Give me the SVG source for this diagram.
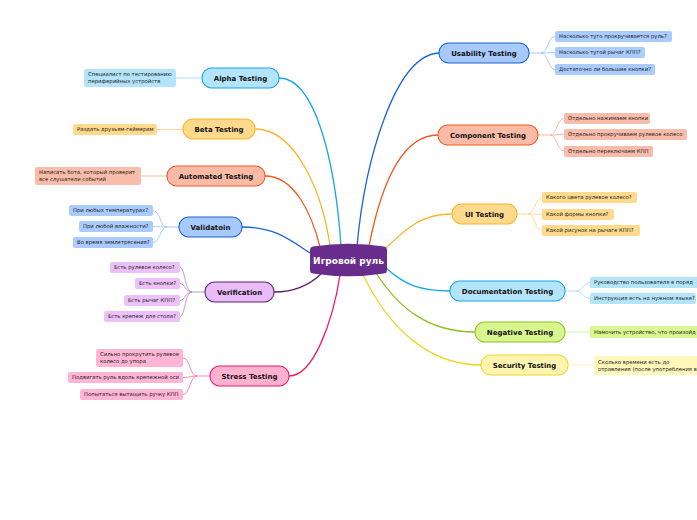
<svg xmlns="http://www.w3.org/2000/svg" width="697" height="520" viewBox="0 0 697 520">
<style>
.bg{fill:#ffffff}
.mn{stroke-width:1.1}
.mt{font-family:"DejaVu Sans",Verdana,sans-serif;font-weight:bold;font-size:7px;fill:#111;text-anchor:middle}
.ct{font-family:"DejaVu Sans",Verdana,sans-serif;font-size:5.3px;fill:#222}
.cen{font-family:"DejaVu Sans",Verdana,sans-serif;font-weight:bold;font-size:9px;fill:#fff;text-anchor:middle}
.ln{fill:none;stroke-width:1.3}
.sl{fill:none;stroke-width:0.9}
.blue{fill:#a8c9fb;stroke:#1a63d6}
.lblue{fill:#b4e4fb;stroke:#17a5ea}
.salm{fill:#f9bba6;stroke:#f15a24}
.yel{fill:#ffd98c;stroke:#fbb42b}
.grn{fill:#d8f68d;stroke:#8cc220}
.pyel{fill:#fff5b0;stroke:#f0d52d}
.purp{fill:#e9bbf7;stroke:#5e2371}
.pink{fill:#ffb2d0;stroke:#f0196e}
.cb-blue{fill:#a9cbfd}
.cb-lblue{fill:#b3e4fa}
.cb-salm{fill:#f9bcaa}
.cb-yel{fill:#ffd98c}
.cb-grn{fill:#d9f78f}
.cb-pyel{fill:#fff7bb}
.cb-purp{fill:#ecc0f8}
.cb-pink{fill:#ffb5d3}
</style>
<rect class="bg" x="0" y="0" width="697" height="520"/>

<g id="connectors">
  <path class="ln" stroke="#17a5ea" d="M279,78 C315,78 335,160 341,246"/>
  <path class="ln" stroke="#fbb42b" d="M255,129 C295,129 322,190 330,246"/>
  <path class="ln" stroke="#f15a24" d="M265,176 C295,176 312,215 320,247"/>
  <path class="ln" stroke="#1a63d6" d="M242,227 C275,227 290,240 310,253"/>
  <path class="ln" stroke="#5b1e70" d="M274,292 C295,292 310,285 322,273"/>
  <path class="ln" stroke="#f0196e" d="M289,376 C314,376 333,320 340,275"/>
  <path class="ln" stroke="#1a63d6" d="M357,246 C365,160 395,55 439,53"/>
  <path class="ln" stroke="#f15a24" d="M369,246 C380,190 400,135 438,135"/>
  <path class="ln" stroke="#fbb42b" d="M386,248 C405,230 420,214 452,214"/>
  <path class="ln" stroke="#17a5ea" d="M386,268 C405,285 420,291 450,291"/>
  <path class="ln" stroke="#8cc220" d="M376,273 C400,310 430,332 475,332"/>
  <path class="ln" stroke="#f0d52d" d="M363,275 C390,330 430,365 481,365"/>

  <g stroke="#9fc3fb" class="sl">
    <path d="M529,53 L541,53 C548,53 548,36.5 555,36.5"/>
    <path d="M541,53 C548,53 548,52.5 555,52.5"/>
    <path d="M541,53 C548,53 548,69.5 555,69.5"/>
  </g>
  <g stroke="#f9b39c" class="sl">
    <path d="M538,135 L550,135 C557,135 557,118.5 564,118.5"/>
    <path d="M550,135 C557,135 557,134.5 564,134.5"/>
    <path d="M550,135 C557,135 557,151 564,151"/>
  </g>
  <g stroke="#ffd58a" class="sl">
    <path d="M517,214 L528,214 C535,214 535,197.5 542,197.5"/>
    <path d="M528,214 C535,214 535,214.5 542,214.5"/>
    <path d="M528,214 C535,214 535,230.5 542,230.5"/>
  </g>
  <g stroke="#a8def8" class="sl">
    <path d="M565,291 L576,291 C583,291 583,282.5 590,282.5"/>
    <path d="M576,291 C583,291 583,298.5 590,298.5"/>
  </g>
  <path class="sl" stroke="#d3ef9a" d="M565,332 L590,332"/>
  <path class="sl" stroke="#fff0a0" d="M568,365 L594,365"/>

  <path class="sl" stroke="#a8def8" d="M202,78 L176,78"/>
  <path class="sl" stroke="#ffd58a" d="M183,129.5 L157,129.5"/>
  <path class="sl" stroke="#f9b39c" d="M167,176 L141,176"/>
  <g stroke="#9fc3fb" class="sl">
    <path d="M179,227 L167,227 C160,227 160,210.5 153,210.5"/>
    <path d="M167,227 C160,227 160,226.5 153,226.5"/>
    <path d="M167,227 C160,227 160,242.5 153,242.5"/>
  </g>
  <g stroke="#b98fc4" class="sl">
    <path d="M205,292 L192,292 C185,292 185,267.5 180,267.5"/>
    <path d="M192,292 C185,292 185,283.5 180,283.5"/>
    <path d="M192,292 C185,292 185,300.5 180,300.5"/>
    <path d="M192,292 C185,292 185,316.5 180,316.5"/>
  </g>
  <g stroke="#f67aa8" class="sl">
    <path d="M210,376 L197,376 C190,376 190,358 183,358"/>
    <path d="M197,376 C190,376 190,377.5 183,377.5"/>
    <path d="M197,376 C190,376 190,394.5 183,394.5"/>
  </g>
</g>

<g id="center">
  <path d="M310,250 Q310,247 313,246.5 Q348,241 384,246.5 Q387,247 387,250 L387,270 Q387,273 384,273.5 Q348,279 313,273.5 Q310,273 310,270 Z" fill="#682d8c"/>
  <text class="cen" x="348.5" y="263.5">Игровой руль</text>
</g>

<g id="usability">
  <rect class="mn blue" x="439" y="43" width="90" height="20" rx="9.5"/>
  <text class="mt" x="484" y="55.5">Usability Testing</text>
  <rect class="cb-blue" x="555" y="31" width="117" height="11" rx="2"/>
  <text class="ct" x="559" y="38.4">Насколько туго прокручивается руль?</text>
  <rect class="cb-blue" x="555" y="47" width="90" height="11" rx="2"/>
  <text class="ct" x="559" y="54.4">Насколько тугой рычаг КПП?</text>
  <rect class="cb-blue" x="555" y="64" width="100" height="11" rx="2"/>
  <text class="ct" x="559" y="71.4">Достаточно ли большие кнопки?</text>
</g>

<g id="component">
  <rect class="mn salm" x="438" y="125" width="100" height="20" rx="9.5"/>
  <text class="mt" x="488" y="137.5">Component Testing</text>
  <rect class="cb-salm" x="564" y="113" width="86" height="11" rx="2"/>
  <text class="ct" x="568" y="120.4">Отдельно нажимаем кнопки</text>
  <rect class="cb-salm" x="564" y="129" width="123" height="11" rx="2"/>
  <text class="ct" x="568" y="136.4">Отдельно прокручиваем рулевое колесо</text>
  <rect class="cb-salm" x="564" y="146" width="89" height="11" rx="2"/>
  <text class="ct" x="568" y="153.4">Отдельно переключаем КПП</text>
</g>

<g id="ui">
  <rect class="mn yel" x="452" y="204" width="65" height="20" rx="9.5"/>
  <text class="mt" x="484.5" y="216.5">UI Testing</text>
  <rect class="cb-yel" x="542" y="192" width="95" height="11" rx="2"/>
  <text class="ct" x="546" y="199.4">Какого цвета рулевое колесо?</text>
  <rect class="cb-yel" x="542" y="209" width="72" height="11" rx="2"/>
  <text class="ct" x="546" y="216.4">Какой формы кнопки?</text>
  <rect class="cb-yel" x="542" y="225" width="98" height="11" rx="2"/>
  <text class="ct" x="546" y="232.4">Какой рисунок на рычаге КПП?</text>
</g>

<g id="documentation">
  <rect class="mn lblue" x="450" y="281" width="115" height="20" rx="9.5"/>
  <text class="mt" x="507.5" y="293.5">Documentation Testing</text>
  <rect class="cb-lblue" x="590" y="277" width="120" height="11" rx="2"/>
  <text class="ct" x="594" y="284.4">Руководство пользователя в поряд</text>
  <rect class="cb-lblue" x="590" y="293" width="106" height="11" rx="2"/>
  <text class="ct" x="594" y="300.4">Инструкция есть на нужном языке?</text>
</g>

<g id="negative">
  <rect class="mn grn" x="475" y="322" width="90" height="20" rx="9.5"/>
  <text class="mt" x="520" y="334.5">Negative Testing</text>
  <rect class="cb-grn" x="590" y="326" width="120" height="12" rx="2"/>
  <text class="ct" x="594" y="333.9">Намочить устройство, что произойд</text>
</g>

<g id="security">
  <rect class="mn pyel" x="481" y="355" width="87" height="20" rx="9.5"/>
  <text class="mt" x="524.5" y="367.5">Security Testing</text>
  <rect class="cb-pyel" x="594" y="356" width="120" height="19" rx="2"/>
  <text class="ct" x="598" y="364">Сколько времени есть до</text>
  <text class="ct" x="598" y="371.4">отравления (после употребления в</text>
</g>

<g id="alpha">
  <rect class="mn lblue" x="202" y="68" width="77" height="20" rx="9.5"/>
  <text class="mt" x="240.5" y="80.5">Alpha Testing</text>
  <rect class="cb-lblue" x="84" y="69" width="92" height="18" rx="2"/>
  <text class="ct" x="88" y="76.4">Специалист по тестированию</text>
  <text class="ct" x="88" y="83.4">периферийных устройств</text>
</g>

<g id="beta">
  <rect class="mn yel" x="183" y="119" width="72" height="20" rx="9.5"/>
  <text class="mt" x="219" y="131.5">Beta Testing</text>
  <rect class="cb-yel" x="73" y="124" width="84" height="11" rx="2"/>
  <text class="ct" x="77" y="131.4">Раздать друзьям-геймерам</text>
</g>

<g id="automated">
  <rect class="mn salm" x="167" y="166" width="98" height="20" rx="9.5"/>
  <text class="mt" x="216" y="178.5">Automated Testing</text>
  <rect class="cb-salm" x="35" y="167" width="106" height="18" rx="2"/>
  <text class="ct" x="39" y="174.4">Написать бота, который проверит</text>
  <text class="ct" x="39" y="181.4">все слушатели событий</text>
</g>

<g id="validation">
  <rect class="mn blue" x="179" y="217" width="63" height="20" rx="9.5"/>
  <text class="mt" x="210.5" y="229.5">Validatoin</text>
  <rect class="cb-blue" x="69" y="205" width="84" height="11" rx="2"/>
  <text class="ct" x="73" y="212.4">При любых температурах?</text>
  <rect class="cb-blue" x="79" y="221" width="74" height="11" rx="2"/>
  <text class="ct" x="83" y="228.4">При любой влажности?</text>
  <rect class="cb-blue" x="73" y="237" width="80" height="11" rx="2"/>
  <text class="ct" x="77" y="244.4">Во время землетрясения?</text>
</g>

<g id="verification">
  <rect class="mn purp" x="205" y="282" width="69" height="20" rx="9.5"/>
  <text class="mt" x="239.5" y="294.5">Verification</text>
  <rect class="cb-purp" x="110" y="262" width="70" height="11" rx="2"/>
  <text class="ct" x="114" y="269.4">Есть рулевое колесо?</text>
  <rect class="cb-purp" x="135" y="278" width="45" height="11" rx="2"/>
  <text class="ct" x="139" y="285.4">Есть кнопки?</text>
  <rect class="cb-purp" x="124" y="295" width="56" height="11" rx="2"/>
  <text class="ct" x="128" y="302.4">Есть рычаг КПП?</text>
  <rect class="cb-purp" x="104" y="311" width="76" height="11" rx="2"/>
  <text class="ct" x="108" y="318.4">Есть крепеж для стола?</text>
</g>

<g id="stress">
  <rect class="mn pink" x="210" y="366" width="79" height="20" rx="9.5"/>
  <text class="mt" x="249.5" y="378.5">Stress Testing</text>
  <rect class="cb-pink" x="96" y="349" width="87" height="18" rx="2"/>
  <text class="ct" x="100" y="356.4">Сильно прокрутить рулевое</text>
  <text class="ct" x="100" y="363.4">колесо до упора</text>
  <rect class="cb-pink" x="68" y="372" width="115" height="11" rx="2"/>
  <text class="ct" x="72" y="379.4">Подвигать руль вдоль крепежной оси</text>
  <rect class="cb-pink" x="80" y="389" width="103" height="11" rx="2"/>
  <text class="ct" x="84" y="396.4">Попытаться вытащить ручку КПП</text>
</g>
</svg>
